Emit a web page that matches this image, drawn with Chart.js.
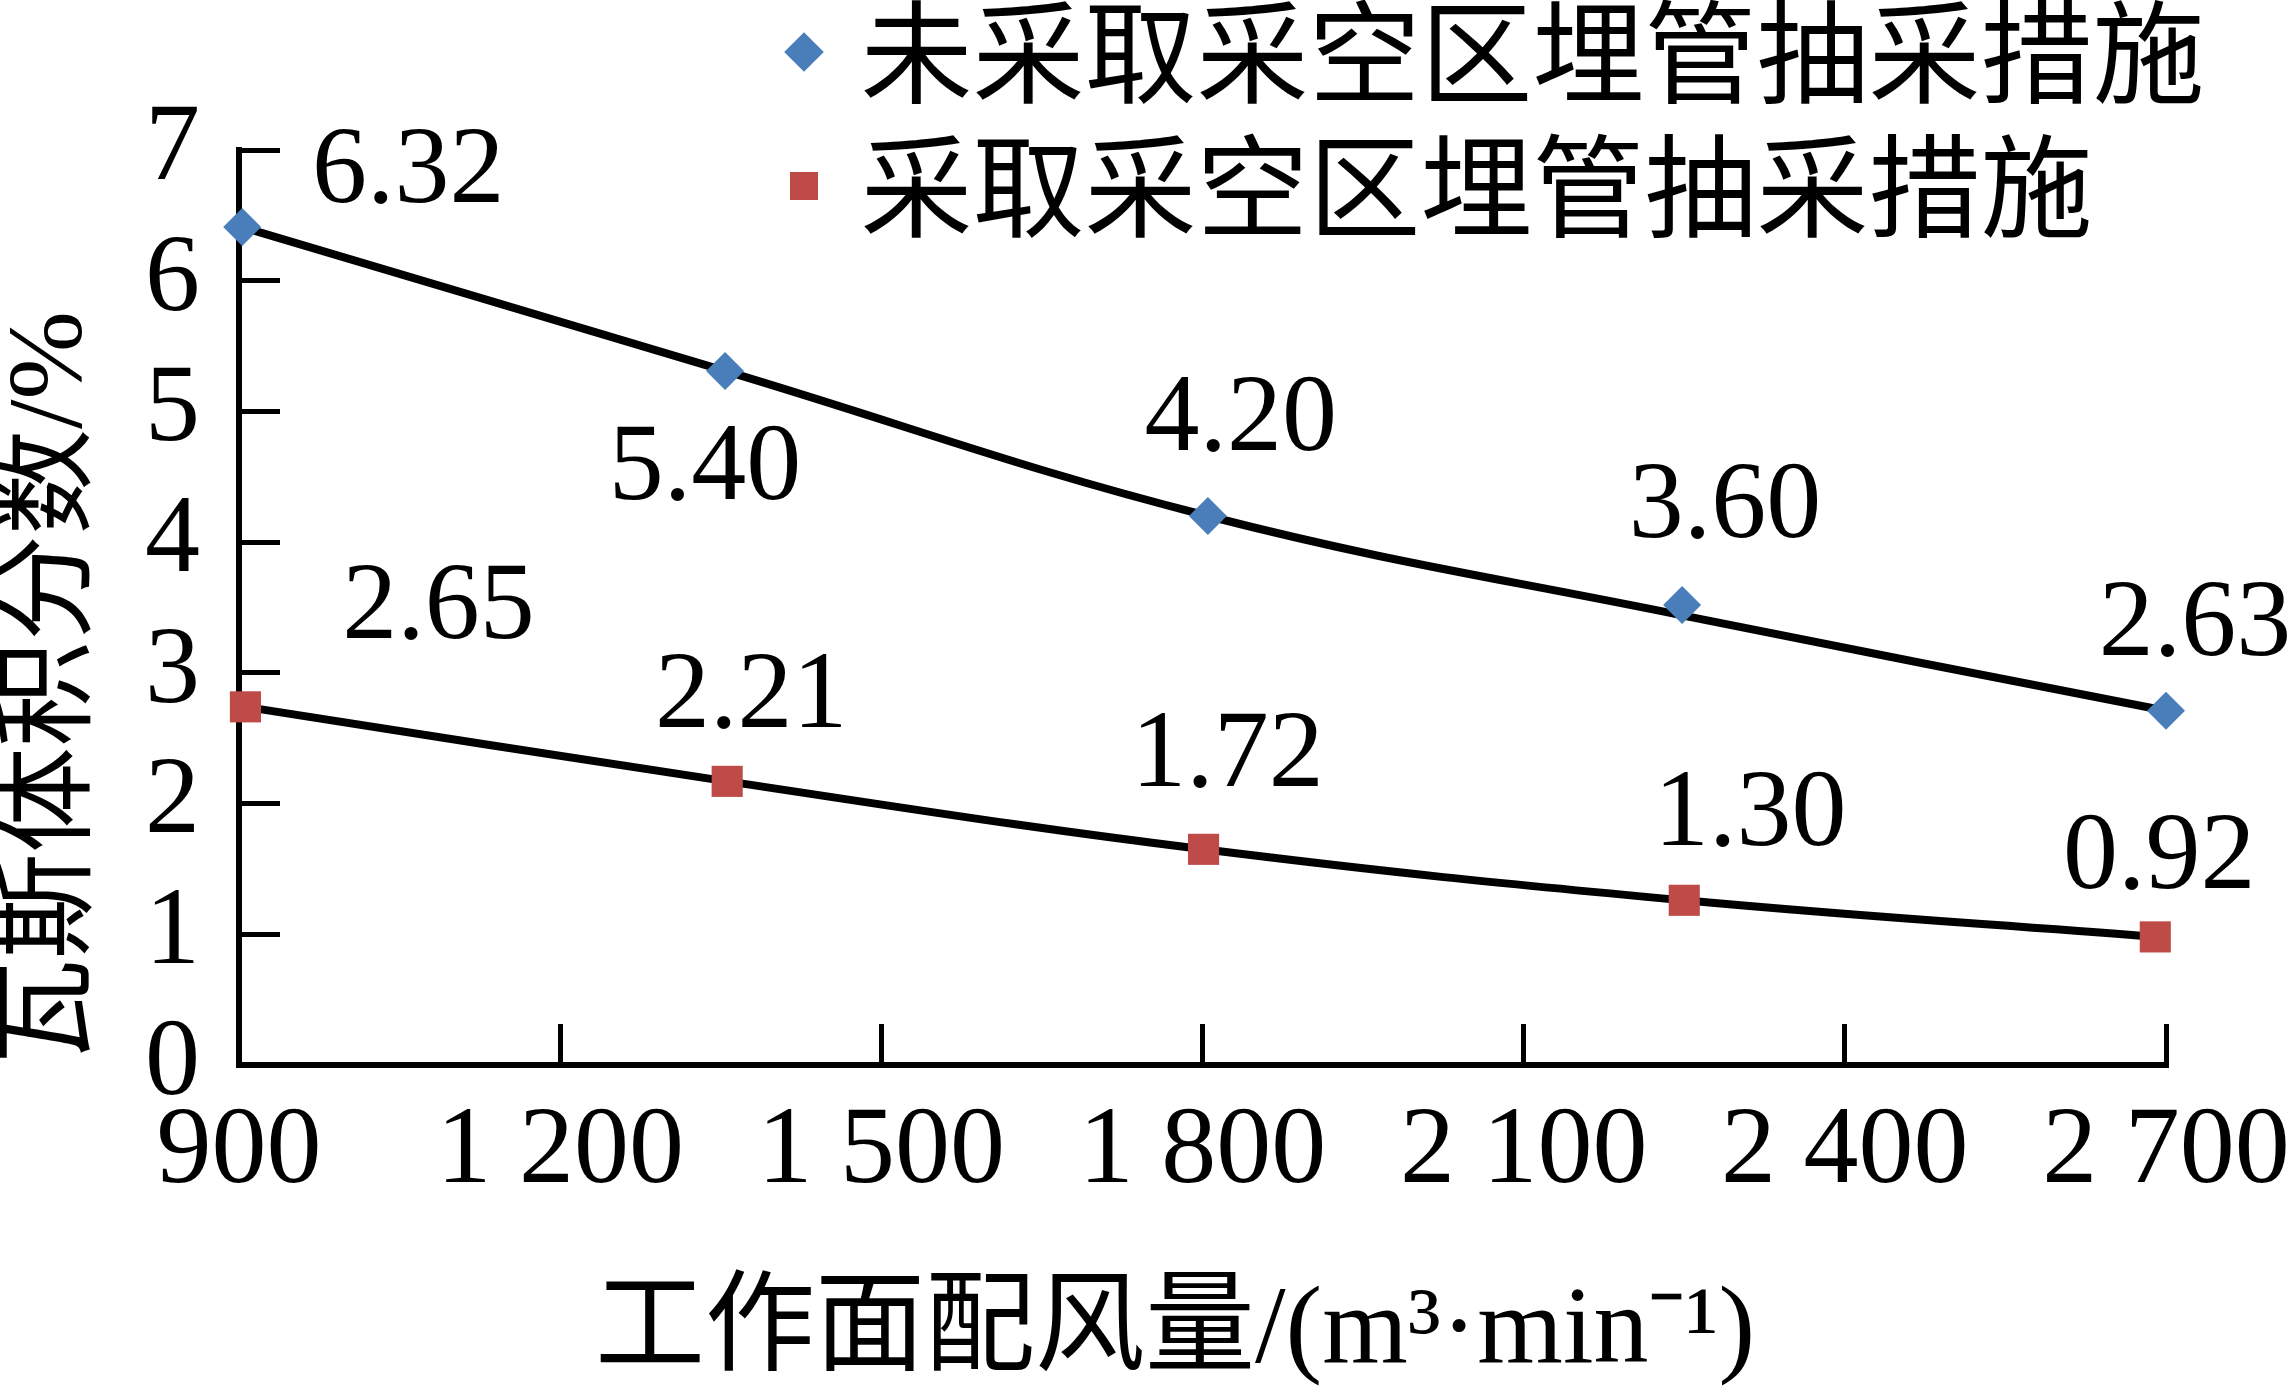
<!DOCTYPE html>
<html>
<head>
<meta charset="utf-8">
<script src="https://cdn.jsdelivr.net/npm/chart.js@4.4.0/dist/chart.umd.min.js"></script>
<style>
  body { margin: 0; background: #fff; }
  #wrap { width: 2288px; height: 1396px; }
</style>
</head>
<body>
<div id="wrap"><canvas id="gasChart"></canvas></div>
<script>
const seriesNames = ["未采取采空区埋管抽采措施", "采取采空区埋管抽采措施"];

const airflowNoDrain = [903, 1354, 1805, 2248, 2700];
const gasNoDrain = [6.41, 5.31, 4.20, 3.52, 2.71];
const trendNoDrain = [6.41, 5.31, 4.20, 3.44, 2.71];
const labelsNoDrain = ["6.32", "5.40", "4.20", "3.60", "2.63"];

const airflowDrain = [906, 1356, 1801, 2250, 2690];
const gasDrain = [2.74, 2.17, 1.65, 1.26, 0.98];
const trendDrain = [2.74, 2.17, 1.65, 1.26, 0.98];
const labelsDrain = ["2.65", "2.21", "1.72", "1.30", "0.92"];

const xTickLabels = ["900", "1 200", "1 500", "1 800", "2 100", "2 400", "2 700"];
const yTickLabels = ["0", "1", "2", "3", "4", "5", "6", "7"];

const serif = "'Liberation Serif', 'Noto Sans CJK SC', serif";
const toPoints = (xs, ys) => xs.map((x, i) => ({ x: x, y: ys[i] }));

// where each value label sits relative to its marker (px)
const labelNudge = [
  [[166, -54], [-20, 99], [33, -95], [43, -97], [29, -85]],
  [[193, -98], [24, -83], [24, -92], [66, -84], [4, -78]]
];
const pointLabels = [labelsNoDrain, labelsDrain];

const valueLabels = {
  id: "valueLabels",
  afterDatasetsDraw(chart) {
    const ctx = chart.ctx;
    ctx.save();
    ctx.font = "110px " + serif;
    ctx.fillStyle = "#000";
    ctx.textAlign = "center";
    ctx.textBaseline = "middle";
    pointLabels.forEach((texts, d) => {
      chart.getDatasetMeta(d).data.forEach((pt, i) => {
        const n = labelNudge[d][i];
        ctx.fillText(texts[i], pt.x + n[0], pt.y + n[1]);
      });
    });
    ctx.restore();
  }
};

// legend sits top right, over the plot
const legendPlacer = {
  id: "legendPlacer",
  afterLayout(chart) {
    const lg = chart.legend;
    lg.left = 781.5;
    lg.right = 2288;
    lg.top = -26;
    lg.bottom = 500;
  }
};

const axisGrid = {
  drawOnChartArea: false,
  drawTicks: true,
  tickLength: -41,
  tickWidth: 5,
  tickColor: "#000"
};
const axisBorder = { display: true, color: "#000", width: 6 };

const markerSet = (label, xs, ys, style, radius, color) => ({
  label: label,
  data: toPoints(xs, ys),
  showLine: false,
  pointStyle: style,
  pointRadius: radius,
  pointBackgroundColor: color,
  pointBorderWidth: 0,
  clip: false
});
const trendSet = (label, xs, ys) => ({
  label: label,
  data: toPoints(xs, ys),
  borderColor: "#000",
  borderWidth: 8,
  tension: 0.4,
  pointRadius: 0,
  clip: false
});

new Chart(document.getElementById("gasChart").getContext("2d"), {
  type: "line",
  data: {
    datasets: [
      markerSet(seriesNames[0], airflowNoDrain, gasNoDrain, "rectRot", 19, "#4A7EBB"),
      markerSet(seriesNames[1], airflowDrain, gasDrain, "rect", 22, "#BE4B48"),
      trendSet("trend 1", airflowNoDrain, trendNoDrain),
      trendSet("trend 2", airflowDrain, trendDrain)
    ]
  },
  options: {
    responsive: true,
    maintainAspectRatio: false,
    devicePixelRatio: 1,
    animation: false,
    events: [],
    layout: { padding: { top: 150, right: 122, bottom: 0, left: 0 } },
    scales: {
      x: {
        type: "linear",
        min: 900,
        max: 2700,
        ticks: {
          stepSize: 300,
          autoSkip: false,
          maxRotation: 0,
          padding: 63,
          color: "#000",
          font: { family: serif, size: 110 },
          callback: (v, i) => xTickLabels[i]
        },
        grid: axisGrid,
        border: axisBorder,
        title: {
          display: true,
          text: "工作面配风量/(m³·min⁻¹)  ",
          color: "#000",
          font: { family: serif, size: 110, lineHeight: 1 },
          padding: { top: 0, bottom: 8 }
        },
        afterFit: (s) => {
          s.height = 331;
          s.paddingLeft = 0;
          s.paddingRight = 0;
        }
      },
      y: {
        min: 0,
        max: 7,
        ticks: {
          stepSize: 1,
          autoSkip: false,
          padding: 80,
          color: "#000",
          font: { family: serif, size: 110 },
          callback: (v, i) => yTickLabels[i]
        },
        grid: axisGrid,
        border: axisBorder,
        title: {
          display: true,
          text: "瓦斯体积分数/%",
          align: "start",
          color: "#000",
          font: { family: serif, size: 106, lineHeight: 1 },
          padding: 0
        },
        afterFit: (s) => {
          s.width = 239;
          s.paddingTop = 0;
          s.paddingBottom = 0;
        }
      }
    },
    plugins: {
      tooltip: { enabled: false },
      legend: {
        position: "chartArea",
        align: "start",
        labels: {
          usePointStyle: true,
          boxWidth: 1,
          boxHeight: 28,
          padding: 22,
          color: "#000",
          font: { family: "'Noto Sans CJK SC', sans-serif", size: 112 },
          filter: (item) => item.datasetIndex < 2
        }
      }
    }
  },
  plugins: [valueLabels, legendPlacer]
});
</script>
</body>
</html>
